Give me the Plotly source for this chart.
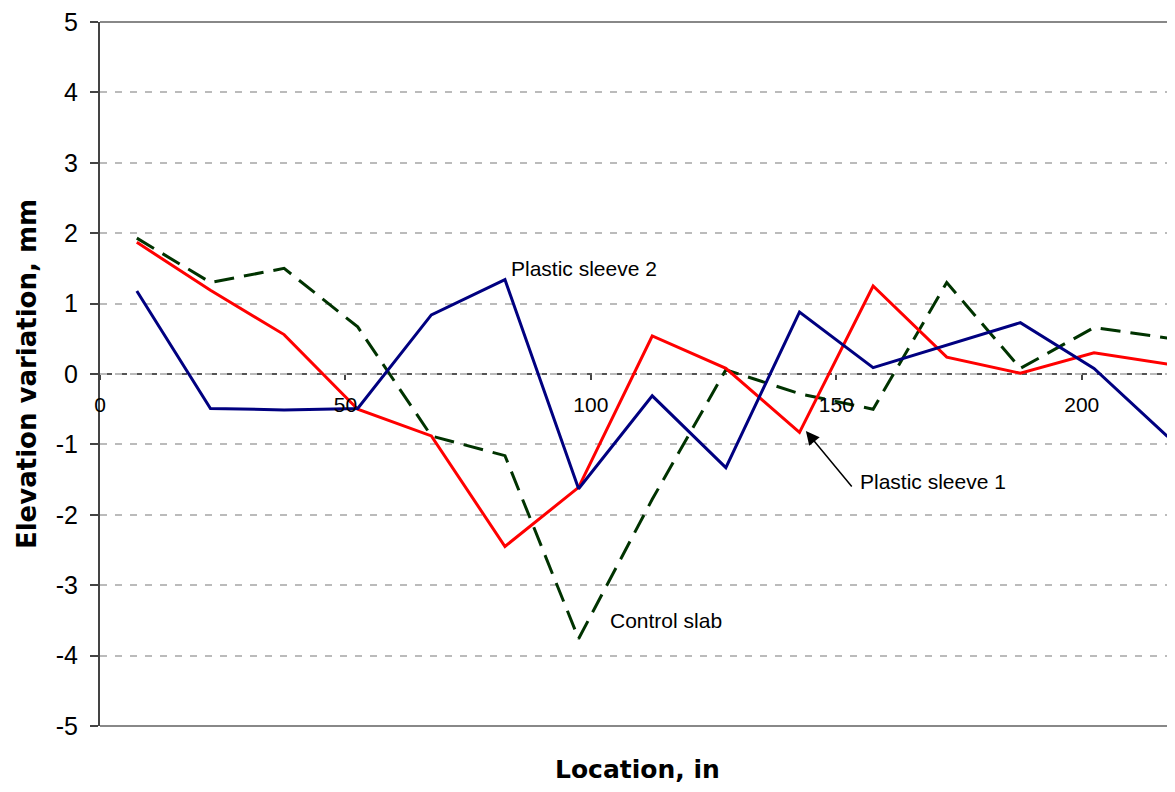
import plotly.graph_objects as go

location_in = [7.5, 22.5, 37.5, 52.5, 67.5, 82.5, 97.5, 112.5, 127.5, 142.5, 157.5, 172.5, 187.5, 202.5, 217.5]
plastic_sleeve_1 = [1.87, 1.19, 0.56, -0.50, -0.88, -2.45, -1.61, 0.54, 0.08, -0.83, 1.25, 0.24, 0.01, 0.30, 0.14]
plastic_sleeve_2 = [1.18, -0.49, -0.51, -0.49, 0.84, 1.34, -1.63, -0.31, -1.33, 0.88, 0.09, 0.41, 0.73, 0.08, -0.89]
control_slab = [1.93, 1.30, 1.50, 0.67, -0.88, -1.16, -3.76, -1.78, 0.06, -0.28, -0.50, 1.30, 0.08, 0.66, 0.51]

x_ticks = [0, 50, 100, 150, 200]
y_ticks = [-5, -4, -3, -2, -1, 0, 1, 2, 3, 4, 5]

fig = go.Figure()
fig.add_trace(go.Scatter(x=location_in, y=control_slab, mode="lines", name="Control slab",
                         line=dict(color="#003300", width=3, dash="20px,10px")))
fig.add_trace(go.Scatter(x=location_in, y=plastic_sleeve_1, mode="lines", name="Plastic sleeve 1",
                         line=dict(color="#FF0000", width=3)))
fig.add_trace(go.Scatter(x=location_in, y=plastic_sleeve_2, mode="lines", name="Plastic sleeve 2",
                         line=dict(color="#000080", width=3)))

# zero line (x-axis line) and plot borders
fig.add_shape(type="line", xref="x", yref="y", x0=0, x1=219, y0=0, y1=0,
              line=dict(color="#555555", width=2, dash="12px,3px"), layer="below")
fig.add_shape(type="line", xref="paper", yref="paper", x0=0, x1=1, y0=1, y1=1,
              line=dict(color="#888888", width=2), layer="below")
fig.add_shape(type="line", xref="paper", yref="paper", x0=0, x1=1, y0=0, y1=0,
              line=dict(color="#888888", width=2), layer="below")

ann_font = dict(family="Liberation Sans, Arial, sans-serif", size=21, color="black")
fig.add_annotation(x=82.5, y=1.50, xref="x", yref="y", text="Plastic sleeve 2", showarrow=False,
                   xanchor="left", yanchor="middle", xshift=4, font=ann_font)
fig.add_annotation(x=103.5, y=-3.50, xref="x", yref="y", text="Control slab", showarrow=False,
                   xanchor="left", yanchor="middle", font=ann_font)
fig.add_annotation(x=154.5, y=-1.53, xref="x", yref="y", text="Plastic sleeve 1", showarrow=False,
                   xanchor="left", yanchor="middle", font=ann_font)
fig.add_annotation(x=143.8, y=-0.81, xref="x", yref="y", ax=153.4, ay=-1.62, axref="x", ayref="y",
                   text="", showarrow=True, arrowhead=2, arrowsize=1.8, arrowwidth=1.5,
                   arrowcolor="black", standoff=0)

# x-axis title
fig.add_annotation(x=0.5, y=-0.062, xref="paper", yref="paper", text="<b>Location, in</b>",
                   showarrow=False, yanchor="middle", xanchor="center",
                   font=dict(family="DejaVu Sans, sans-serif", size=25, color="black"))

fig.update_layout(
    width=1167, height=784,
    margin=dict(l=92, r=0, t=9, b=66),
    paper_bgcolor="white", plot_bgcolor="white",
    showlegend=False,
    xaxis=dict(range=[0, 219], tickvals=x_ticks, ticktext=[str(v) for v in x_ticks],
               anchor="free", position=0.5, showgrid=False, zeroline=False, showline=False,
               ticks="outside", ticklen=5, tickwidth=1.5, tickcolor="#444444",
               ticklabelstandoff=7,
               tickfont=dict(family="Liberation Sans, Arial, sans-serif", size=21, color="black")),
    yaxis=dict(range=[-5, 5], tickvals=y_ticks, ticktext=[str(v) for v in y_ticks],
               showgrid=True, gridcolor="#bbbbbb", gridwidth=1.5, griddash="7px,8px",
               zeroline=False, showline=True, linecolor="#444444", linewidth=2,
               ticks="outside", ticklen=8, tickwidth=1.5, tickcolor="#444444",
               ticklabelstandoff=7, ticklabeloverflow="allow",
               tickfont=dict(family="Liberation Sans, Arial, sans-serif", size=25, color="black"),
               title=dict(text="<b>Elevation variation, mm</b>", standoff=12,
                          font=dict(family="DejaVu Sans, sans-serif", size=26, color="black"))),
)

fig.write_html("out.html")
